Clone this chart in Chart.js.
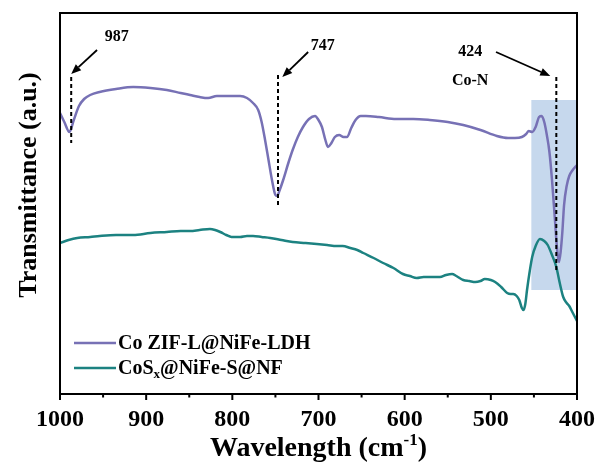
<!DOCTYPE html>
<html><head><meta charset="utf-8">
<script src="https://cdn.jsdelivr.net/npm/chart.js@4.4.1/dist/chart.umd.min.js"></script>
<style>html,body{margin:0;padding:0;background:#fff}#wrap{width:600px;height:464px;position:relative}</style>
</head><body><div id="wrap"><canvas id="c"></canvas></div>
<script>
// ---- data (wavenumber in cm-1, transmittance in a.u.) ----
const seriesNames = ['Co ZIF-L@NiFe-LDH', 'CoSx@NiFe-S@NF'];
const wlA = [1000,995,989,984,978,972,965,954,935,915,895,876,860,849,838,828,818,805,791,783,776,770,766,762,758,754,750,748,745,741,735,730,724,718,711,704,700,696,692,689,685,681,676,671,667,662,657,651,645,630,610,590,571,550,532,512,493,480,472,464,459,456,452,448,444,441,438,435,432,429,426,423,421,419,417,415,412,409,405,400];
const tA  = [281,272,262,274,288,295,299,302,305,307,306,304,301,299,297,296,298,298,298,296,291,284,272,254,234,214,199,198,204,214,231,244,257,267,275,278,274,267,254,247,251,257,259,257,257,266,274,278,278,277,275,275,274,272,269,264,258,256,256,257,260,263,262,267,277,278,272,259,242,214,179,144,132,142,162,189,208,218,224,229];
const wlB = [1000,990,980,965,954,935,915,895,876,860,849,838,826,820,814,807,801,791,783,776,766,756,743,730,715,702,690,679,672,663,655,648,636,625,613,602,594,586,578,571,559,552,545,540,532,525,518,512,507,500,495,488,481,477,474,470,467,464,462,460,458,455,452,448,443,438,434,429,424,420,416,412,409,406,403,400];
const tB  = [151,154,156,157,158,159,159,161,162,163,163,164,165,164,162,159,157,157,158,158,157,156,154,152,151,150,149,148,148,146,144,141,136,131,126,120,118,116,117,117,117,119,120,118,114,113,112,113,115,114,112,107,101,100,100,98,94,86,84,90,104,122,137,148,155,153,149,139,127,111,97,91,88,83,78,73];
const xTicks = [1000,900,800,700,600,500,400];
const peakWl = [987, 747, 424];
const peakLabels = ['987', '747', '424'];

// ---- annotation layout (data units) ----
const SERIF = "'Liberation Serif','Times New Roman',serif";
const ann = {
  dashTop: [317, 319, 317],
  dashBottom: [251, 186, 124],
  arrowFrom: [[957, 344], [712, 342], [494, 342]],
  arrowTo: [[987, 320], [742, 317], [431, 318]],
  labelAt: [[934, 357], [695, 348], [524, 342]],
  extra: {text: 'Co-N', at: [524, 313]},
  box: {from: 453, to: 400, top: 294, bottom: 104}
};

function arrow(ctx, x0, y0, x1, y1) {
  const a = Math.atan2(y1 - y0, x1 - x0), L = 10, W = 4;
  const bx = x1 - L * Math.cos(a), by = y1 - L * Math.sin(a);
  ctx.beginPath(); ctx.moveTo(x0, y0); ctx.lineTo(bx, by); ctx.stroke();
  ctx.beginPath(); ctx.moveTo(x1, y1);
  ctx.lineTo(bx + W * Math.sin(a), by - W * Math.cos(a));
  ctx.lineTo(bx - W * Math.sin(a), by + W * Math.cos(a));
  ctx.closePath(); ctx.fill();
}

const deco = {
  id: 'deco',
  beforeDatasetsDraw(chart) {
    const {ctx, scales: {x, y}} = chart;
    const b = ann.box;
    const x0 = x.getPixelForValue(b.from), x1 = x.getPixelForValue(b.to);
    const y0 = y.getPixelForValue(b.top), y1 = y.getPixelForValue(b.bottom);
    ctx.save();
    ctx.fillStyle = 'rgba(160,190,225,0.6)';
    ctx.fillRect(Math.min(x0, x1), y0, Math.abs(x1 - x0), y1 - y0);
    ctx.restore();
  },
  afterDatasetsDraw(chart) {
    const {ctx, scales: {x, y}} = chart;
    ctx.save();
    ctx.strokeStyle = '#000'; ctx.fillStyle = '#000';
    ctx.lineWidth = 2; ctx.setLineDash([4, 3]);
    peakWl.forEach((w, i) => {
      const px = x.getPixelForValue(w);
      ctx.beginPath(); ctx.moveTo(px, y.getPixelForValue(ann.dashTop[i])); ctx.lineTo(px, y.getPixelForValue(ann.dashBottom[i])); ctx.stroke();
    });
    ctx.setLineDash([]);
    ctx.lineWidth = 1.8;
    peakWl.forEach((w, i) => {
      const f = ann.arrowFrom[i], t = ann.arrowTo[i];
      arrow(ctx, x.getPixelForValue(f[0]), y.getPixelForValue(f[1]), x.getPixelForValue(t[0]), y.getPixelForValue(t[1]));
    });
    ctx.font = 'bold 16px ' + SERIF; ctx.textAlign = 'center'; ctx.textBaseline = 'middle';
    peakLabels.forEach((s, i) => {
      const p = ann.labelAt[i];
      ctx.fillText(s, x.getPixelForValue(p[0]), y.getPixelForValue(p[1]));
    });
    ctx.fillText(ann.extra.text, x.getPixelForValue(ann.extra.at[0]), y.getPixelForValue(ann.extra.at[1]));
    ctx.restore();
  },
  afterDraw(chart) {
    const {ctx, chartArea: ca, scales: {x}} = chart;
    ctx.save();
    ctx.strokeStyle = '#000'; ctx.fillStyle = '#000';
    ctx.lineWidth = 2;
    ctx.strokeRect(ca.left, ca.top, ca.right - ca.left, ca.bottom - ca.top);
    for (let v = 400; v <= 1000; v += 50) {
      const px = x.getPixelForValue(v);
      const len = v % 100 === 0 ? 6 : 3.5;
      ctx.beginPath(); ctx.moveTo(px, ca.bottom); ctx.lineTo(px, ca.bottom + len); ctx.stroke();
    }
    // legend
    const ds = chart.data.datasets;
    const lx0 = ca.left + 14, lx1 = ca.left + 56, tx = ca.left + 58;
    const rows = [ca.bottom - 51, ca.bottom - 26];
    ds.forEach((d, i) => {
      ctx.strokeStyle = d.borderColor; ctx.lineWidth = 2.5;
      ctx.beginPath(); ctx.moveTo(lx0, rows[i]); ctx.lineTo(lx1, rows[i]); ctx.stroke();
    });
    ctx.textAlign = 'left'; ctx.textBaseline = 'alphabetic';
    const big = 'bold 20px ' + SERIF, small = 'bold 13px ' + SERIF;
    ctx.font = big;
    ctx.fillText(seriesNames[0], tx, rows[0] + 5.5);
    let cx = tx;
    const b = rows[1] + 5.5;
    ctx.font = big; ctx.fillText('CoS', cx, b); cx += ctx.measureText('CoS').width;
    ctx.font = small; ctx.fillText('x', cx, b + 4); cx += ctx.measureText('x').width;
    ctx.font = big; ctx.fillText('@NiFe-S@NF', cx, b);
    // x title with superscript
    const xt = ['Wavelength (cm', '-1', ')'];
    const fBig = 'bold 28px ' + SERIF, fSup = 'bold 17px ' + SERIF;
    ctx.font = fBig; const w1 = ctx.measureText(xt[0]).width, w3 = ctx.measureText(xt[2]).width;
    ctx.font = fSup; const w2 = ctx.measureText(xt[1]).width;
    let sx = (ca.left + ca.right) / 2 - (w1 + w2 + w3) / 2;
    const by = 456;
    ctx.font = fBig; ctx.fillText(xt[0], sx, by); sx += w1;
    ctx.font = fSup; ctx.fillText(xt[1], sx, by - 11); sx += w2;
    ctx.font = fBig; ctx.fillText(xt[2], sx, by);
    // y title
    ctx.save();
    ctx.translate(36, 185); ctx.rotate(-Math.PI / 2);
    ctx.font = 'bold 26px ' + SERIF; ctx.textAlign = 'center'; ctx.textBaseline = 'alphabetic';
    ctx.fillText('Transmittance (a.u.)', 0, 0);
    ctx.restore();
    ctx.restore();
  }
};

new Chart(document.getElementById('c'), {
  type: 'line',
  data: {
    datasets: [
      {label: seriesNames[0], data: wlA.map((w, i) => ({x: w, y: tA[i]})), borderColor: '#7771B5', borderWidth: 2.5, pointRadius: 0, tension: 0.4, cubicInterpolationMode: 'monotone', fill: false},
      {label: seriesNames[1], data: wlB.map((w, i) => ({x: w, y: tB[i]})), borderColor: '#1C8281', borderWidth: 2.5, pointRadius: 0, tension: 0.4, cubicInterpolationMode: 'monotone', fill: false}
    ]
  },
  options: {
    responsive: true, maintainAspectRatio: false, animation: false,
    layout: {padding: {left: 0, right: 23, top: 13, bottom: 0}},
    plugins: {legend: {display: false}, tooltip: {enabled: false}},
    scales: {
      x: {
        type: 'linear', reverse: true, min: 400, max: 1000,
        afterBuildTicks: s => { s.ticks = xTicks.map(v => ({value: v})); },
        grid: {display: false, drawTicks: false}, border: {display: false},
        ticks: {color: '#000', font: {family: SERIF, size: 24, weight: 'bold'}, padding: 11, maxRotation: 0, autoSkip: false, callback: v => String(v)},
        afterFit: s => { s.height = 70; s.paddingLeft = 0; s.paddingRight = 0; }
      },
      y: {
        min: 0, max: 381,
        grid: {display: false, drawTicks: false}, border: {display: false},
        ticks: {display: false},
        afterFit: s => { s.width = 60; }
      }
    }
  },
  plugins: [deco]
});
</script>
</body></html>
